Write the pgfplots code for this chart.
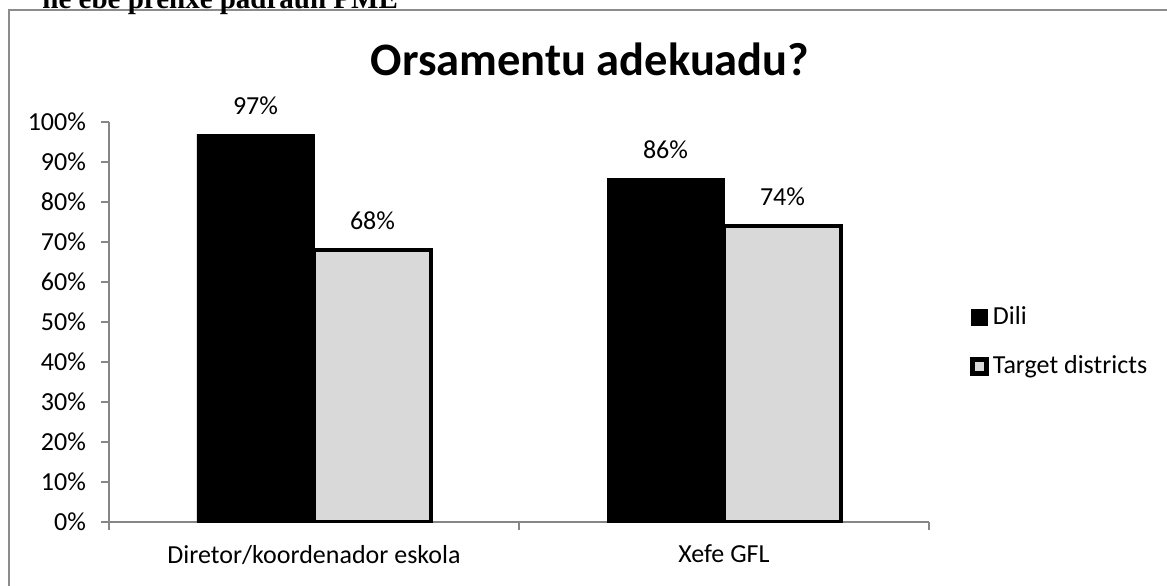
\documentclass[border=0pt]{standalone}
\usepackage{pgfplots}
\pgfplotsset{compat=1.18}
\usepackage{fontspec}
\setmainfont{Carlito}
\newfontfamily\timesfont{Liberation Serif}
\definecolor{axgray}{HTML}{868686}
\definecolor{bargray}{HTML}{D9D9D9}
\definecolor{framegray}{HTML}{8C8C8C}
\begin{document}
\begin{tikzpicture}
\useasboundingbox (0,0) rectangle (583.5pt,292.5pt);
\begin{scope}[overlay]
\clip (0,0) rectangle (583.5pt,292.5pt);
\fill[white] (0,0) rectangle (583.5pt,292.5pt);
\draw[framegray, line width=1pt] (4.5pt,-20pt) rectangle (600pt,287.5pt);
\node[anchor=base west, inner sep=0pt, font=\timesfont\bfseries\fontsize{14.5}{17}\selectfont] at (21pt,288.3pt) {ne ebe prenxe padraun PME};
\node[anchor=base, inner sep=0pt, font=\bfseries\fontsize{23.25}{28}\selectfont] at (295pt,254.5pt) {Orsamentu adekuadu?};
\begin{axis}[
  at={(54.5pt,31.5pt)}, anchor=south west,
  scale only axis, width=410pt, height=200pt,
  xmin=-0.5, xmax=1.5, ymin=0, ymax=100,
  axis lines=left, axis line style={-, axgray, line width=0.75pt},
  tick style={axgray, line width=0.75pt},
  tick align=outside, major tick length=4pt,
  xtick={-0.5,0.5,1.5}, xticklabels={},
  extra x ticks={0,1},
  extra x tick labels={Diretor/koordenador eskola, Xefe GFL},
  extra x tick style={major tick length=0pt},
  ytick={0,10,...,100},
  yticklabel={\pgfmathprintnumber{\tick}\%},
  /pgf/number format/assume math mode=true,
  ticklabel style={font=\fontsize{13}{15}\selectfont, black},
  xticklabel style={yshift=-8pt},
  yticklabel style={xshift=-4pt},
  legend style={at={(1.0494,0.4506)}, anchor=west, draw=none, fill=none,
    inner sep=0pt, row sep=10pt, font=\fontsize{13}{15}\selectfont,
    nodes={inner xsep=2pt}},
  legend cell align=left,
]
\addplot[ybar, bar width=58.5pt, bar shift=-29.25pt, fill=black, draw=black,
  nodes near coords={\pgfmathprintnumber{\pgfplotspointmeta}\%},
  every node near coord/.append style={font=\fontsize{13}{15}\selectfont, black, yshift=6pt, xshift=-29.25pt},
  legend image code/.code={\fill[black] (0.5pt,-4pt) rectangle (8.5pt,4pt);}]
  coordinates {(0,97) (1,86)};
\addlegendentry{Dili}
\addplot[ybar, bar width=58.5pt, bar shift=29.25pt, fill=bargray, draw=black, line width=1.75pt,
  nodes near coords={\pgfmathprintnumber{\pgfplotspointmeta}\%},
  every node near coord/.append style={font=\fontsize{13}{15}\selectfont, black, yshift=6pt, xshift=29.25pt},
  legend image code/.code={\draw[fill=bargray, draw=black, line width=2.5pt] (1pt,-3.5pt) rectangle (8pt,3.5pt);}]
  coordinates {(0,68) (1,74)};
\addlegendentry{Target districts}
\end{axis}
\end{scope}
\end{tikzpicture}
\end{document}
